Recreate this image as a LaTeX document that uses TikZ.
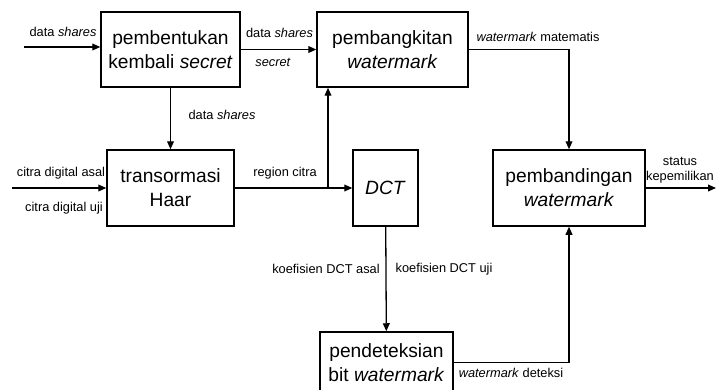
\documentclass[tikz,border=0pt]{standalone}
\usepackage{fontspec}
\setmainfont{Liberation Sans}
\usetikzlibrary{arrows.meta}
\tikzset{
  blok/.style={draw, line width=0.75pt, align=center, inner sep=0pt,
    font=\fontsize{9.6}{12}\selectfont},
  ket/.style={inner sep=0pt, align=center, font=\fontsize{6.4}{7.6}\selectfont},
  panah/.style={-{Triangle[length=4pt,width=3.4pt]}, line width=0.65pt}
}
\begin{document}
\begin{tikzpicture}[x=0.5pt,y=-0.5pt]
\useasboundingbox (0,0) rectangle (716,390);
% blok proses
\node[blok, minimum width=69.5pt, minimum height=37.5pt] (rekon) at (170.5,49.5) {pembentukan\\kembali \textit{secret}};
\node[blok, minimum width=75.5pt, minimum height=37.5pt] (bangkit) at (392.5,49.5) {pembangkitan\\\textit{watermark}};
\node[blok, minimum width=63.5pt, minimum height=38pt] (haar) at (170.5,188) {transormasi\\Haar};
\node[blok, minimum width=32.5pt, minimum height=38pt] (dct) at (385.5,188) {\textit{DCT}};
\node[blok, minimum width=76pt, minimum height=38pt] (banding) at (569,188) {pembandingan\\\textit{watermark}};
\node[blok, minimum width=66.5pt, minimum height=30.5pt] (deteksi) at (386.5,362.5) {pendeteksian\\bit \textit{watermark}};
% ujung bebas
\coordinate (masuk1) at (24,47);
\coordinate (masuk2) at (12,188);
\coordinate (cabang) at (328,188);
\coordinate (keluar) at (716,188);
% penghubung
\draw[panah] (masuk1) -- (rekon.west |- masuk1);
\draw[panah] (rekon.east) -- (bangkit.west);
\draw[panah] (rekon) -- (haar);
\draw[panah] (masuk2) -- (haar.west);
\draw[panah] (haar) -- (dct);
\draw[panah] (cabang) -- (cabang |- bangkit.south);
\draw[panah] (bangkit.east) -| (banding.north);
\draw[panah] (banding.east) -- (keluar);
\draw[panah] (dct) -- (deteksi);
\draw[panah] (deteksi.east) -| (banding.south);
% keterangan
\node[ket] (k1) at (63,32) {data \textit{shares}};
\node[ket] (k2) at (279.5,33) {data \textit{shares}};
\node[ket] (k3) at (273,62) {\textit{secret}};
\node[ket] (k4) at (222,115) {data \textit{shares}};
\node[ket] (k5) at (61,173) {citra digital asal};
\node[ket] (k6) at (64,208) {citra digital uji};
\node[ket] (k7) at (285,173) {region citra};
\node[ket] (k8) at (538,37) {\textit{watermark} matematis};
\node[ket] (k9) at (680,170) {status\\kepemilikan};
\node[ket] (k10) at (326,269) {koefisien DCT asal};
\node[ket] (k11) at (444,269) {koefisien DCT uji};
\node[ket] (k12) at (511,373) {\textit{watermark} deteksi};
\end{tikzpicture}
\end{document}
